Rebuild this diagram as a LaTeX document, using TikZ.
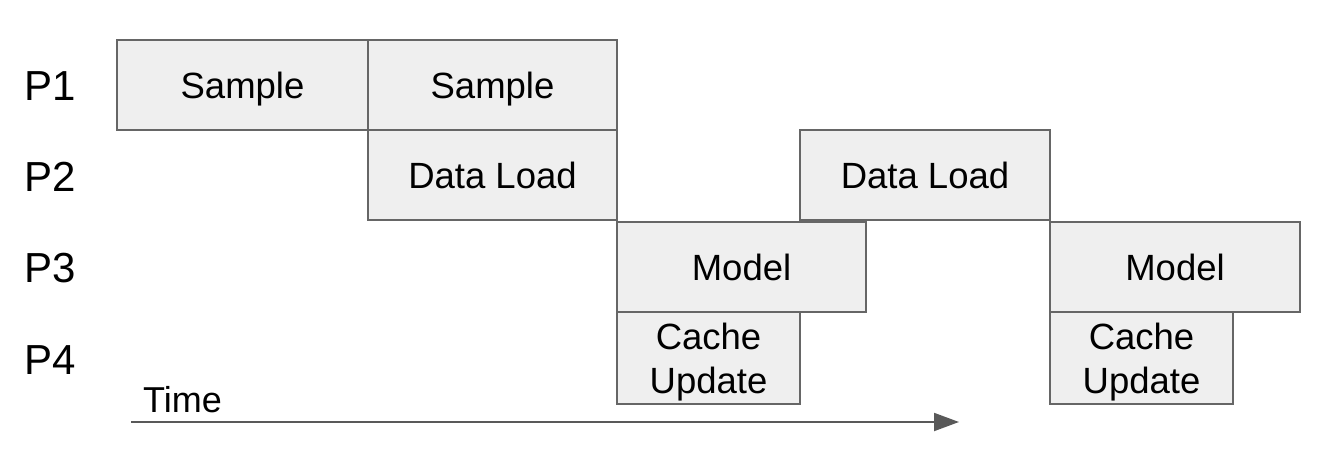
\documentclass[tikz,border=0pt]{standalone}
\usepackage{fontspec}
\setmainfont{Liberation Sans}
\usetikzlibrary{arrows.meta}
\definecolor{boxline}{HTML}{666666}
\definecolor{boxfill}{HTML}{EFEFEF}
\definecolor{arrowc}{HTML}{595959}
\begin{document}
\begin{tikzpicture}[x=1pt,y=-1pt,
  box/.style={draw=boxline, fill=boxfill, line width=2pt, inner sep=0pt,
    font=\fontsize{36.5}{44}\selectfont, minimum height=90pt,
    text height=26.1pt, text depth=0pt},
  cachebox/.style={box, align=center, text height=70.1pt, text depth=0pt},
  plabel/.style={inner sep=0pt, font=\fontsize{42}{50}\selectfont,
    text height=30pt, text depth=0pt},
  timearrow/.style={draw=arrowc, line width=2pt,
    -{Triangle[length=25pt,width=18pt]}}]
\useasboundingbox (0,0) rectangle (1330,462);
% row labels
\node[plabel] (p1) at (50,86) {P1};
\node[plabel] (p2) at (50,177) {P2};
\node[plabel] (p3) at (50,268) {P3};
\node[plabel] (p4) at (50,359) {P4};
% row 1
\node[box, minimum width=251pt] (s1) at (242.5,85) {Sample};
\node[box, minimum width=249pt] (s2) at (492.5,85) {Sample};
% row 2
\node[box, minimum width=249pt] (d1) at (492.5,175) {Data Load};
\node[box, minimum width=250pt] (d2) at (925,175) {Data Load};
% row 3
\node[box, minimum width=249pt] (m1) at (741.5,267) {Model};
\node[box, minimum width=250pt] (m2) at (1175,267) {Model};
% row 4
\node[cachebox, minimum width=183pt, minimum height=92pt] (c1) at (708.5,358) {Cache\\Update};
\node[cachebox, minimum width=183pt, minimum height=92pt] (c2) at (1141.5,358) {Cache\\Update};
% time axis
\node[anchor=base west, inner sep=0pt, font=\fontsize{36}{43}\selectfont] (time) at (143,412) {Time};
\coordinate (t0) at (131,422);
\coordinate (t1) at (959,422);
\draw[timearrow] (t0) -- (t1);
\end{tikzpicture}
\end{document}
